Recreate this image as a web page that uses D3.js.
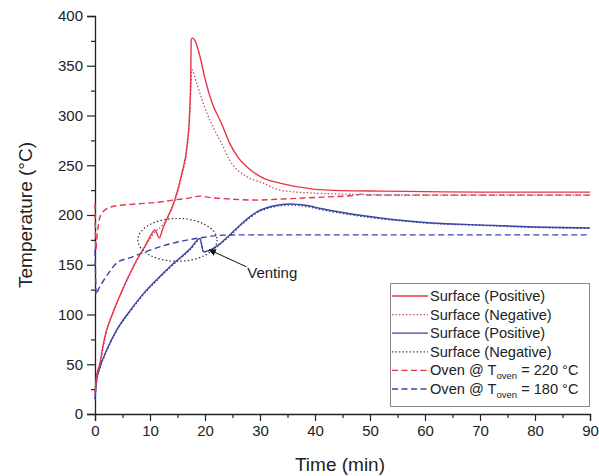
<!DOCTYPE html>
<html><head><meta charset="utf-8">
<script src="https://cdn.jsdelivr.net/npm/d3@7"></script>
<style>body{margin:0;background:#fff}svg{display:block}text{font-family:"Liberation Sans",Arial,sans-serif}</style>
</head><body>
<svg id="chart" width="599" height="476"></svg>
<script>
// ---- data (time in min, temperature in °C) ----
const redSurfacePos = [[0,21],[0.3,38],[0.9,51],[1.5,70],[2.1,84],[3,98],[3.9,111],[5,125],[5.8,135],[6.7,145],[7.6,155],[8.8,166],[9.8,176],[10.9,185],[11.7,177],[12.3,186],[13,195],[14.5,215],[15.8,242],[16.7,268],[17.2,302],[17.4,336],[17.5,376],[17.7,378],[18.2,375],[19.1,359],[20,337],[21.2,314],[23,292],[24.5,272],[26,258],[27.6,248.5],[30.6,237],[33.6,232],[39.7,226],[45,224.5],[52,224],[60,223.5],[70,223],[80,223],[90,223]];
const redSurfaceNeg = [[0,22],[0.3,37],[0.9,50],[2.1,83],[3.9,110],[5.8,134],[7.6,154],[8.8,165],[10.9,183],[12.3,190],[13,196],[14.5,214],[15.8,240],[16.7,266],[17.2,298],[17.45,330],[17.6,346],[18.5,332],[19.7,312],[20.9,295],[23,272],[24.5,255],[27.6,238.5],[30.6,232],[33.6,225],[39.7,222],[50,220.5],[60,220],[70,220],[80,220],[90,220]];
const blueSurfacePos = [[0,15],[0.3,34],[0.9,47],[2.1,64],[3.9,84],[6.4,104],[8.8,121],[11.2,135],[14.2,151],[17.3,166],[19.1,176.5],[19.7,163],[21,165],[22.7,171],[24.5,180],[27,193],[29.4,203],[32.4,209],[35.5,211],[38.5,209.5],[41.5,206],[44.5,203],[50.6,198],[55,195],[60,192.5],[70,190],[80,188],[90,187]];
const blueSurfaceNeg = [[0,15],[0.3,33],[0.9,46],[2.1,63],[3.9,83],[6.4,103],[8.8,120],[11.2,134],[14.2,150],[17.3,165],[19.1,175],[19.7,163],[21,164.5],[22.7,170.5],[24.5,179],[27,192],[29.4,202],[32.4,208],[35.5,210],[38.5,208.5],[41.5,205],[44.5,202],[50.6,197],[55,194.5],[60,192],[70,189.5],[80,187.5],[90,186.5]];
const ovenRed220 = [[0,212],[0.05,190],[0.15,165],[0.4,180],[0.9,198],[1.8,205],[3.6,209],[7.3,211],[11.8,213],[14.2,215],[17,217],[19.1,219],[21,217.5],[23.3,216.5],[29.4,215],[35.5,216.5],[41.5,218],[47.6,220],[48.5,221],[50,220],[60,220],[70,220],[80,220],[90,220]];
const ovenBlue180 = [[0,165],[0.1,140],[0.2,120],[0.6,125],[1.2,131],[2.4,141],[4,152],[6.6,157.5],[8.2,161],[11.2,167],[16,174],[19.1,177],[22.7,179.5],[26,180],[40,180],[60,180],[90,180]];
const xTicks = [0,10,20,30,40,50,60,70,80,90];
const xMinor = [5,15,25,35,45,55,65,75,85];
const yTicks = [0,50,100,150,200,250,300,350,400];
const yMinor = [25,75,125,175,225,275,325,375];
const ventEllipse = {t:15, T:175, rt:7.2, rT:21.5};
const ventArrow = {fromT:[27.5,148], toT:[20.8,165]};

const RED = "#e8334a", BLUE = "#3a45a8", RED_DOT = "#b8566c", BLUE_DOT = "#3e4278";
const series = [
  {data:redSurfacePos, color:RED, dash:null, label:"Surface (Positive)"},
  {data:redSurfaceNeg, color:RED_DOT, dash:"1.5,2", label:"Surface (Negative)"},
  {data:blueSurfacePos, color:BLUE, dash:null, label:"Surface (Positive)"},
  {data:blueSurfaceNeg, color:BLUE_DOT, dash:"1.5,2", label:"Surface (Negative)"},
  {data:ovenRed220, color:RED, dash:"6,3.5", label:"Oven @ T", sub:"oven", rest:" = 220 °C"},
  {data:ovenBlue180, color:BLUE, dash:"6,3.5", label:"Oven @ T", sub:"oven", rest:" = 180 °C"}
];

const svg = d3.select("#chart");
const x = d3.scaleLinear().domain([0,90]).range([95,590]);
const y = d3.scaleLinear().domain([0,400]).range([414,16]);

// axes
const axColor = "#222";
const gx = svg.append("g").attr("transform","translate(0,414)")
  .call(d3.axisBottom(x).tickValues(xTicks).tickSize(7).tickPadding(4).tickFormat(d3.format("d")));
const gxm = svg.append("g").attr("transform","translate(0,414)")
  .call(d3.axisBottom(x).tickValues(xMinor).tickSize(4).tickFormat(""));
const gy = svg.append("g").attr("transform","translate(95,0)")
  .call(d3.axisLeft(y).tickValues(yTicks).tickSize(8).tickPadding(4).tickFormat(d3.format("d")));
const gym = svg.append("g").attr("transform","translate(95,0)")
  .call(d3.axisLeft(y).tickValues(yMinor).tickSize(4).tickFormat(""));
[gx,gxm,gy,gym].forEach(g=>{
  g.selectAll("path.domain").attr("stroke",axColor).attr("stroke-width",1.3);
  g.selectAll(".tick line").attr("stroke",axColor).attr("stroke-width",1.2);
  g.selectAll(".tick text").attr("fill","#222").style("font-size","15px").style("font-family","'Liberation Sans',Arial,sans-serif");
});
gxm.select("path.domain").remove(); gym.select("path.domain").remove();

// lines
const line = d3.line().x(d=>x(d[0])).y(d=>y(d[1])).curve(d3.curveMonotoneX);
const drawOrder = [5,4,3,2,1,0];
drawOrder.forEach(i=>{
  const s = series[i];
  svg.append("path").attr("d",line(s.data)).attr("fill","none")
    .attr("stroke",s.color).attr("stroke-width",s.dash && s.dash.startsWith("1.5")?1.3:1.4)
    .attr("stroke-dasharray",s.dash);
});

// venting annotation
svg.append("ellipse").attr("cx",x(ventEllipse.t)).attr("cy",y(ventEllipse.T))
  .attr("rx",x(ventEllipse.t+ventEllipse.rt)-x(ventEllipse.t))
  .attr("ry",y(ventEllipse.T-ventEllipse.rT)-y(ventEllipse.T))
  .attr("fill","none").attr("stroke","#333").attr("stroke-width",1.2).attr("stroke-dasharray","1.5,2.2");
svg.append("defs").append("marker").attr("id","arr").attr("viewBox","0 0 10 10")
  .attr("refX",9).attr("refY",5).attr("markerWidth",9).attr("markerHeight",7)
  .attr("markerUnits","userSpaceOnUse").attr("orient","auto")
  .append("path").attr("d","M0,0L10,5L0,10z").attr("fill","#111");
svg.append("line").attr("x1",x(ventArrow.fromT[0])).attr("y1",y(ventArrow.fromT[1]))
  .attr("x2",x(ventArrow.toT[0])).attr("y2",y(ventArrow.toT[1]))
  .attr("stroke","#111").attr("stroke-width",1).attr("marker-end","url(#arr)");
svg.append("text").attr("x",x(ventArrow.fromT[0])+1).attr("y",y(ventArrow.fromT[1])+11)
  .style("font-size","15px").attr("fill","#222").text("Venting");

// axis titles
svg.append("text").attr("transform","translate(32,215) rotate(-90)").attr("text-anchor","middle")
  .style("font-size","19px").attr("fill","#222").text("Temperature (°C)");
svg.append("text").attr("x",340).attr("y",471).attr("text-anchor","middle")
  .style("font-size","19px").attr("fill","#222").text("Time (min)");

// legend
const lg = svg.append("g");
lg.append("rect").attr("x",390.5).attr("y",283.5).attr("width",199).attr("height",123)
  .attr("fill","#fff").attr("stroke","#8a8a8a").attr("stroke-width",1);
series.forEach((s,i)=>{
  const cy = 296 + i*18.6;
  lg.append("line").attr("x1",392).attr("x2",428).attr("y1",cy).attr("y2",cy)
    .attr("stroke",s.color).attr("stroke-width",1.3).attr("stroke-dasharray",s.dash);
  const t = lg.append("text").attr("x",430).attr("y",cy+5).style("font-size","14.6px").attr("fill","#222");
  t.append("tspan").text(s.label);
  if (s.sub){
    t.append("tspan").attr("dy",3.5).style("font-size","9.5px").text(s.sub);
    t.append("tspan").attr("dy",-3.5).text(s.rest);
  }
});
</script>
</body></html>
